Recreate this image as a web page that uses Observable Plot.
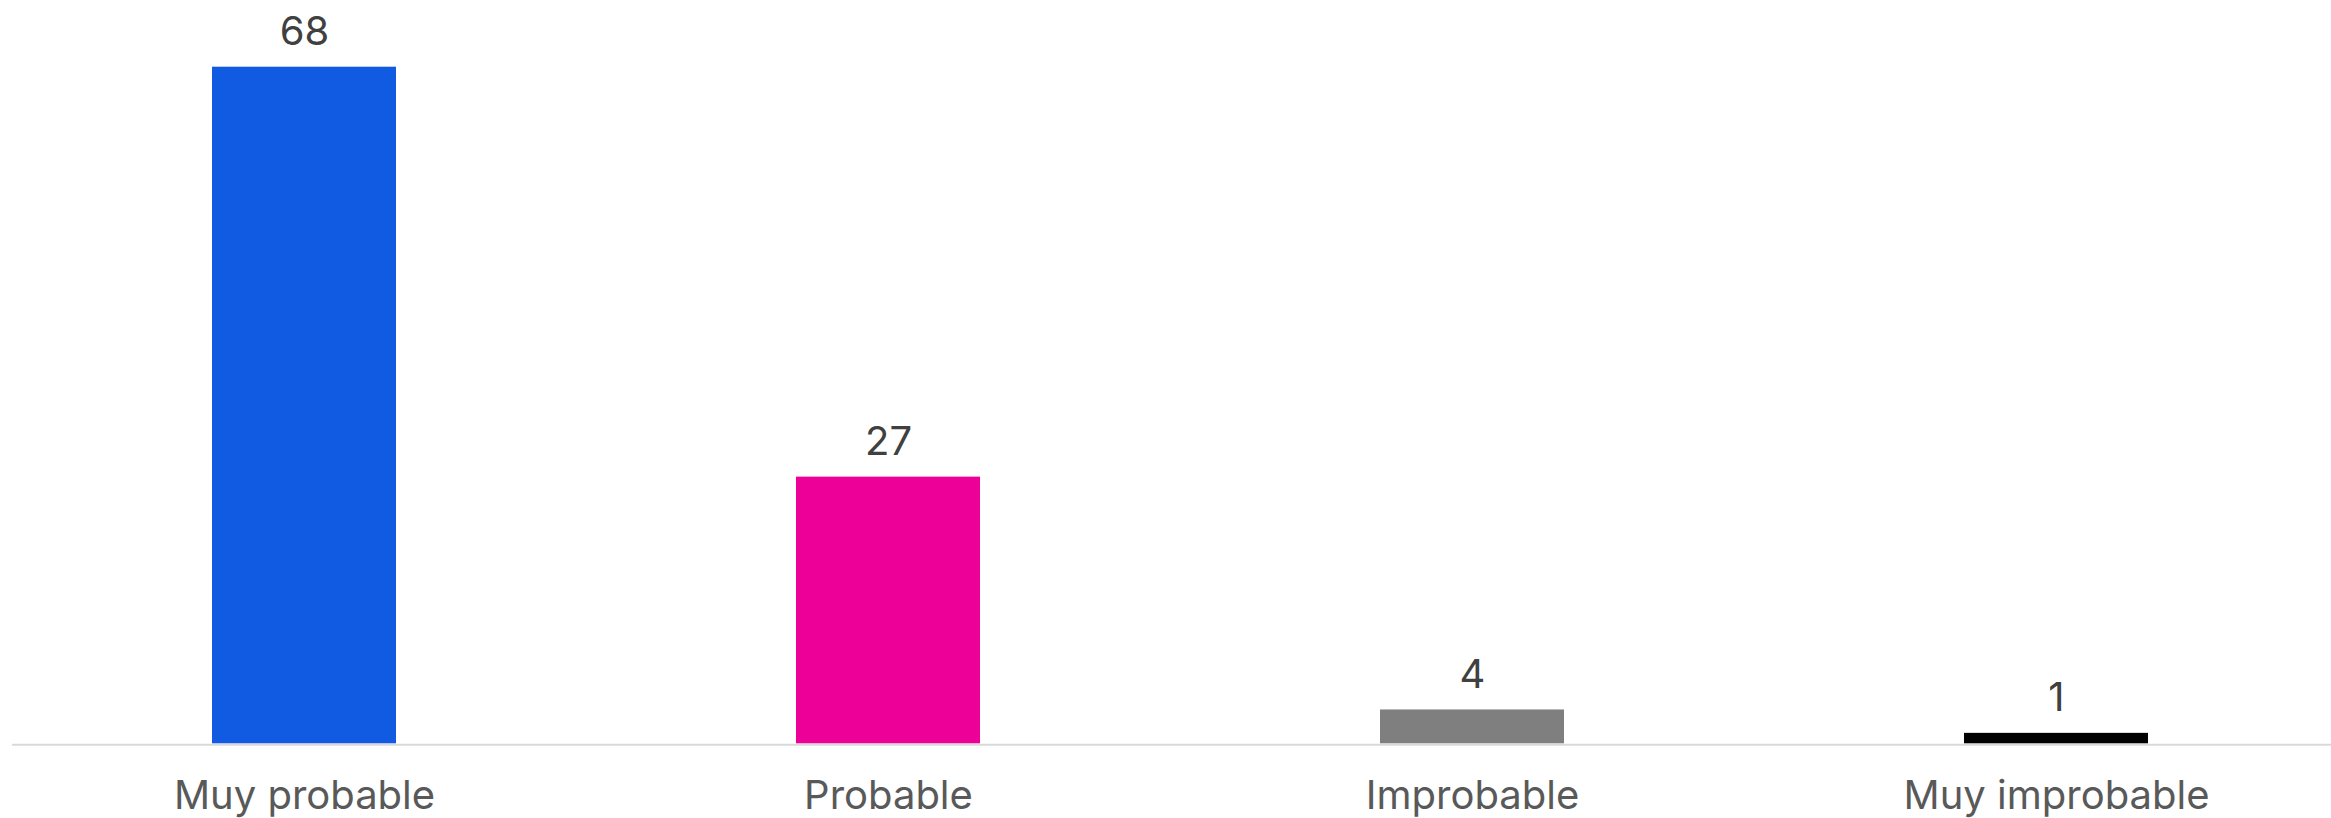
<!DOCTYPE html>
<html>
<head>
<meta charset="utf-8">
<script src="https://cdn.jsdelivr.net/npm/d3@7"></script>
<script src="https://cdn.jsdelivr.net/npm/@observablehq/plot@0.6"></script>
<style>
html, body { margin: 0; padding: 0; overflow: hidden; background: #fff; }
#chart svg { display: block; }
</style>
</head>
<body>
<div id="chart"></div>
<script>
const categories = ["Muy probable", "Probable", "Improbable", "Muy improbable"];
const values = [68, 26.8, 3.4, 1.05];
const labels = ["68", "27", "4", "1"];
const colors = ["#115BE3", "#EC0098", "#7F7F7F", "#000000"];

const data = categories.map((c, i) => ({cat: c, value: values[i], label: labels[i], color: colors[i]}));

const chart = Plot.plot({
  width: 2331,
  height: 818,
  marginLeft: 12,
  marginRight: 0,
  marginTop: 66.7,
  marginBottom: 74.7,
  style: {fontFamily: "Inter, sans-serif", background: "#fff", overflow: "visible"},
  x: {domain: categories, range: [12, 2348], paddingInner: 0.685, paddingOuter: 0.3425, align: 0.5, axis: null},
  y: {domain: [0, 68], axis: null},
  marks: [
    Plot.ruleY([0], {stroke: "#D9D9D9", strokeWidth: 2, dy: 1}),
    Plot.barY(data, {x: "cat", y: "value", fill: "color"}),
    Plot.text(data, {x: "cat", y: "value", text: "label", lineAnchor: "bottom", dy: -22, fontSize: 40, fill: "#404040"}),
    Plot.text(data, {x: "cat", y: 0, text: "cat", lineAnchor: "bottom", dy: 65, fontSize: 40, fill: "#595959"})
  ]
});
document.getElementById("chart").appendChild(chart);
</script>
</body>
</html>
